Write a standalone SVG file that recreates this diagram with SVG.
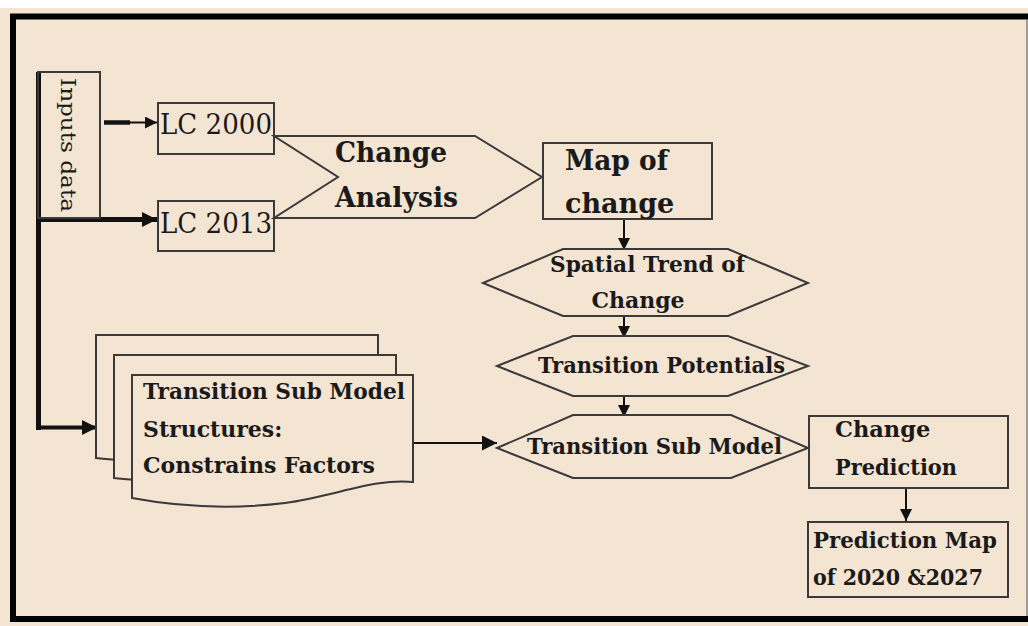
<svg xmlns="http://www.w3.org/2000/svg" width="1028" height="626" viewBox="0 0 1028 626">
<defs>
<style>
.box{fill:none;stroke:#3a3a3a;stroke-width:2}
.shape{fill:#F4E4D2;stroke:#3a3a3a;stroke-width:2}
.t{font-family:"DejaVu Serif","Liberation Serif",serif;font-weight:bold;fill:#1a1a1a}
.r{font-family:"DejaVu Serif","Liberation Serif",serif;font-weight:normal;fill:#1a1a1a}
.ln{stroke:#111;fill:none}
</style>
<marker id="ah" viewBox="0 0 10 10" refX="10" refY="5" markerWidth="12" markerHeight="12" markerUnits="userSpaceOnUse" orient="auto">
<path d="M0,0 L10,5 L0,10 Z" fill="#111"/>
</marker>
<marker id="ahb" viewBox="0 0 10 10" refX="10" refY="5" markerWidth="15" markerHeight="15" markerUnits="userSpaceOnUse" orient="auto">
<path d="M0,0 L10,5 L0,10 Z" fill="#111"/>
</marker>
</defs>
<rect x="0" y="0" width="1028" height="626" fill="#F4E4D2"/>
<rect x="0" y="0" width="1028" height="8" fill="#ffffff"/>
<path d="M1028,16.5 H13 V619 H1028" fill="none" stroke="#000" stroke-width="6"/>
<line x1="1027" y1="19" x2="1027" y2="616" stroke="#555" stroke-width="1"/>

<g id="connectors">
<line class="ln" x1="38.5" y1="72" x2="38.5" y2="430" stroke-width="5"/>
<line class="ln" x1="104" y1="122.5" x2="130" y2="122.5" stroke-width="4.5"/>
<line class="ln" x1="128" y1="122.5" x2="157" y2="122.5" stroke-width="2" marker-end="url(#ah)"/>
<line class="ln" x1="36" y1="219.5" x2="157" y2="219.5" stroke-width="5" marker-end="url(#ahb)"/>
<line class="ln" x1="36" y1="427.5" x2="97" y2="427.5" stroke-width="4" stroke="#222" marker-end="url(#ahb)"/>
<line class="ln" x1="624" y1="219" x2="624" y2="250" stroke-width="2" marker-end="url(#ah)"/>
<line class="ln" x1="624" y1="316" x2="624" y2="338" stroke-width="2" marker-end="url(#ah)"/>
<line class="ln" x1="624" y1="396" x2="624" y2="417" stroke-width="2" marker-end="url(#ah)"/>
<line class="ln" x1="413" y1="443" x2="497" y2="443" stroke-width="2" stroke="#333" marker-end="url(#ahb)"/>
<line class="ln" x1="906" y1="488" x2="906" y2="521" stroke-width="2" marker-end="url(#ah)"/>
</g>

<g id="inputs">
<rect class="box" x="38" y="72" width="62" height="146"/>
<text class="r" font-size="21" transform="translate(61,78) rotate(90)" textLength="134" lengthAdjust="spacingAndGlyphs">Inputs data</text>
</g>

<g id="lc2000">
<rect class="box" x="158" y="103" width="116" height="51"/>
<text class="r" font-size="28" x="160" y="134" textLength="112" lengthAdjust="spacingAndGlyphs">LC 2000</text>
</g>

<g id="lc2013">
<rect class="box" x="158" y="201" width="116" height="50"/>
<text class="r" font-size="28" x="160" y="233" textLength="112" lengthAdjust="spacingAndGlyphs">LC 2013</text>
</g>

<g id="change-analysis">
<polygon class="shape" points="274,136 475,136 542,177 475,218 274,218 338,177"/>
<text class="t" font-size="27" x="335" y="162" textLength="112" lengthAdjust="spacingAndGlyphs">Change</text>
<text class="t" font-size="27" x="335" y="207" textLength="123" lengthAdjust="spacingAndGlyphs">Analysis</text>
</g>

<g id="map-of-change">
<rect class="box" x="543" y="143" width="169" height="76"/>
<text class="t" font-size="27" x="565" y="170" textLength="103" lengthAdjust="spacingAndGlyphs">Map of</text>
<text class="t" font-size="27" x="565" y="213">change</text>
</g>

<g id="spatial-trend">
<polygon class="shape" points="483,283 563,249 728,249 808,283 728,316 563,316"/>
<text class="t" font-size="22" x="550" y="272" textLength="195" lengthAdjust="spacingAndGlyphs">Spatial Trend of</text>
<text class="t" font-size="22" x="638" y="308" text-anchor="middle">Change</text>
</g>

<g id="transition-potentials">
<polygon class="shape" points="497,366 573,336 728,336 808,366 728,396 573,396"/>
<text class="t" font-size="22" x="538" y="373" textLength="247" lengthAdjust="spacingAndGlyphs">Transition Potentials</text>
</g>

<g id="transition-sub-model">
<polygon class="shape" points="497,448 573,415 731,415 808,448 731,478 573,478"/>
<text class="t" font-size="22" x="527" y="454" textLength="255" lengthAdjust="spacingAndGlyphs">Transition Sub Model</text>
</g>

<g id="sub-model-structures">
<path class="shape" d="M96,335 H378 V442 C340,440 300,456 250,463 C190,470 140,462 96,458 Z"/>
<path class="shape" d="M114,355 H396 V462 C358,460 318,476 268,483 C208,490 158,482 114,478 Z"/>
<path class="shape" d="M132,375 H413 V482 C375,478 335,496 285,503 C235,509 180,507 132,498 Z"/>
<text class="t" font-size="22" x="143" y="399" textLength="262" lengthAdjust="spacingAndGlyphs">Transition Sub Model</text>
<text class="t" font-size="22" x="143" y="437">Structures:</text>
<text class="t" font-size="22" x="143" y="473">Constrains Factors</text>
</g>

<g id="change-prediction">
<rect class="box" x="809" y="416" width="199" height="72"/>
<text class="t" font-size="22.5" x="835" y="437">Change</text>
<text class="t" font-size="22.5" x="835" y="475" textLength="122" lengthAdjust="spacingAndGlyphs">Prediction</text>
</g>

<g id="prediction-map">
<rect class="box" x="808" y="522" width="200" height="75"/>
<text class="t" font-size="22" x="813" y="548" textLength="184" lengthAdjust="spacingAndGlyphs">Prediction Map</text>
<text class="t" font-size="22" x="813" y="585" textLength="170" lengthAdjust="spacingAndGlyphs">of 2020 &amp;2027</text>
</g>
</svg>
